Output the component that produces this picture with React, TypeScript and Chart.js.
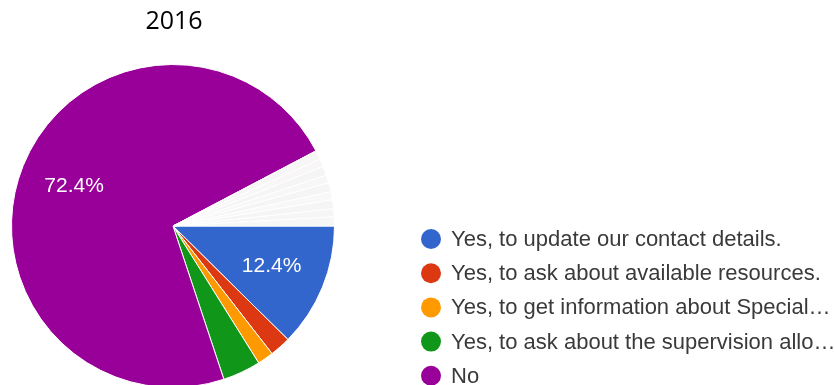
import React, { useEffect, useRef } from "react";
import { Chart, registerables } from "chart.js";

Chart.register(...registerables);

const titleText = "2016";
const legendLabels = [
  "Yes, to update our contact details.",
  "Yes, to ask about available resources.",
  "Yes, to get information about Special…",
  "Yes, to ask about the supervision allo…",
  "No",
];
const mainValues = [12.4, 2.1, 1.6, 3.8, 72.4];
const mainColors = ["#3366cc", "#dc3912", "#ff9900", "#109618", "#990099"];
const otherValues = [0.9, 0.8, 0.9, 0.8, 0.9, 0.8, 0.9, 0.8, 0.9];
const otherColors = ["#f6f6f6", "#f8f6f6", "#f5f5f5", "#f7f7f7", "#f6f5f6", "#f8f8f8", "#f5f5f5", "#f7f6f7", "#f6f6f6"];
const shownPercentLabels = [0, 4];

export default function App() {
  const ref = useRef<HTMLCanvasElement | null>(null);

  useEffect(() => {
    const canvas = ref.current;
    if (!canvas) return;

    const overlay = {
      id: "overlay",
      afterDatasetsDraw(chart: any) {
        const ctx = chart.ctx;
        const meta = chart.getDatasetMeta(0);
        ctx.save();
        ctx.fillStyle = "#ffffff";
        ctx.font = "21px 'Liberation Sans', Arial, sans-serif";
        ctx.textAlign = "center";
        ctx.textBaseline = "middle";
        shownPercentLabels.forEach((i) => {
          const arc = meta.data[i];
          const p = arc.getProps(["x", "y", "startAngle", "endAngle", "outerRadius"], true);
          const mid = (p.startAngle + p.endAngle) / 2;
          const r = p.outerRadius * 0.66;
          ctx.fillText(mainValues[i].toFixed(1) + "%", p.x + Math.cos(mid) * r, p.y + Math.sin(mid) * r);
        });
        ctx.restore();
      },
      afterDraw(chart: any) {
        const ctx = chart.ctx;
        ctx.save();
        ctx.fillStyle = "#000000";
        ctx.font = "25px 'Open Sans', 'Noto Sans', sans-serif";
        ctx.textAlign = "center";
        ctx.textBaseline = "middle";
        ctx.fillText(titleText, 174, 22);

        ctx.font = "22px 'Liberation Sans', Arial, sans-serif";
        ctx.textAlign = "left";
        legendLabels.forEach((label, i) => {
          const y = 239 + i * 34.2;
          ctx.beginPath();
          ctx.fillStyle = mainColors[i];
          ctx.arc(431, y, 10, 0, Math.PI * 2);
          ctx.fill();
          ctx.fillStyle = "#3a3a3a";
          ctx.fillText(label, 451, y + 1);
        });
        ctx.restore();
      },
    };

    const chart = new Chart(canvas, {
      type: "pie",
      data: {
        labels: [...legendLabels, ...otherValues.map((_, i) => "Other " + (i + 1))],
        datasets: [
          {
            data: [...mainValues, ...otherValues],
            backgroundColor: [...mainColors, ...otherColors],
            borderColor: "#ffffff",
            borderWidth: 1,
          },
        ],
      },
      options: {
        responsive: false,
        animation: false,
        rotation: 90,
        layout: { padding: { left: 11, top: 64, right: 499, bottom: 12 } },
        plugins: {
          legend: { display: false },
          tooltip: { enabled: false },
          title: { display: false },
        },
      },
      plugins: [overlay],
    });

    return () => chart.destroy();
  }, []);

  return (
    <div style={{ position: "absolute", left: 0, top: 0, width: 834, height: 385, overflow: "hidden", background: "#ffffff" }}>
      <canvas ref={ref} width={834} height={400} style={{ display: "block" }} />
    </div>
  );
}
